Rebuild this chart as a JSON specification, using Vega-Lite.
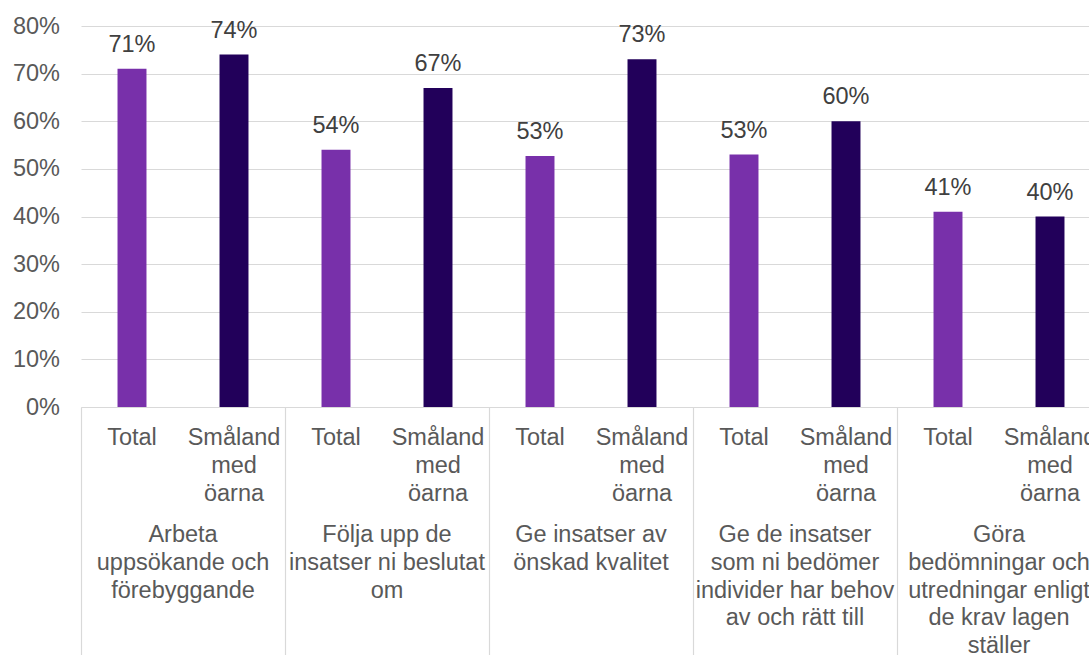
{
  "$schema": "https://vega.github.io/schema/vega-lite/v6.json",
  "autosize": {"type": "none"},
  "width": 1020,
  "height": 381,
  "padding": {"left": 81, "top": 26, "right": -12, "bottom": 248},
  "background": "white",
  "config": {
    "font": "Liberation Sans",
    "view": {"stroke": null},
    "axis": {"labelFont": "Liberation Sans", "labelFontSize": 23.5, "labelColor": "#595959"}
  },
  "data": {
    "values": [
      {"group": "Arbeta uppsökande och förebyggande", "series": "Total", "value": 0.71},
      {"group": "Arbeta uppsökande och förebyggande", "series": "Småland med öarna", "value": 0.74},
      {"group": "Följa upp de insatser ni beslutat om", "series": "Total", "value": 0.54},
      {"group": "Följa upp de insatser ni beslutat om", "series": "Småland med öarna", "value": 0.67},
      {"group": "Ge insatser av önskad kvalitet", "series": "Total", "value": 0.527},
      {"group": "Ge insatser av önskad kvalitet", "series": "Småland med öarna", "value": 0.73},
      {"group": "Ge de insatser som ni bedömer individer har behov av och rätt till", "series": "Total", "value": 0.53},
      {"group": "Ge de insatser som ni bedömer individer har behov av och rätt till", "series": "Småland med öarna", "value": 0.60},
      {"group": "Göra bedömningar och utredningar enligt de krav lagen ställer", "series": "Total", "value": 0.41},
      {"group": "Göra bedömningar och utredningar enligt de krav lagen ställer", "series": "Småland med öarna", "value": 0.40}
    ]
  },
  "encoding": {
    "x": {
      "field": "group",
      "type": "nominal",
      "sort": null,
      "scale": {"paddingInner": 0, "paddingOuter": 0},
      "axis": {
        "orient": "bottom",
        "title": null,
        "labels": false,
        "ticks": true,
        "tickBand": "extent",
        "tickSize": 248,
        "tickColor": "#d9d9d9",
        "tickWidth": 1.2,
        "domain": true,
        "domainColor": "#d9d9d9",
        "domainWidth": 1.2
      }
    }
  },
  "layer": [
    {
      "mark": {"type": "bar"},
      "encoding": {
        "xOffset": {
          "field": "series",
          "type": "nominal",
          "sort": ["Total", "Småland med öarna"],
          "scale": {"paddingInner": 0.716, "paddingOuter": 0.358}
        },
        "y": {
          "field": "value",
          "type": "quantitative",
          "scale": {"domain": [0, 0.8], "nice": false},
          "axis": {
            "title": null,
            "values": [0, 0.1, 0.2, 0.3, 0.4, 0.5, 0.6, 0.7, 0.8],
            "format": ".0%",
            "grid": true,
            "gridColor": "#d9d9d9",
            "gridWidth": 1.2,
            "domain": false,
            "ticks": false,
            "labelPadding": 21.5
          }
        },
        "color": {
          "field": "series",
          "type": "nominal",
          "scale": {"domain": ["Total", "Småland med öarna"], "range": ["#7830AA", "#22005A"]},
          "legend": null
        }
      }
    },
    {
      "mark": {"type": "text", "baseline": "alphabetic", "dy": -17, "fontSize": 23.5, "color": "#404040", "font": "Liberation Sans"},
      "encoding": {
        "xOffset": {"field": "series", "type": "nominal", "sort": ["Total", "Småland med öarna"]},
        "y": {"field": "value", "type": "quantitative"},
        "text": {"field": "value", "type": "quantitative", "format": ".0%"}
      }
    },
    {
      "mark": {"type": "text", "baseline": "top", "align": "center", "fontSize": 23.5, "color": "#595959", "font": "Liberation Sans", "lineBreak": " ", "lineHeight": 28},
      "encoding": {
        "xOffset": {"field": "series", "type": "nominal", "sort": ["Total", "Småland med öarna"]},
        "y": {"datum": -0.039, "type": "quantitative"},
        "text": {"field": "series", "type": "nominal"}
      }
    },
    {
      "data": {
        "values": [
          {"group": "Arbeta uppsökande och förebyggande", "label": "Arbeta\nuppsökande och\nförebyggande"},
          {"group": "Följa upp de insatser ni beslutat om", "label": "Följa upp de\ninsatser ni beslutat\nom"},
          {"group": "Ge insatser av önskad kvalitet", "label": "Ge insatser av\nönskad kvalitet"},
          {"group": "Ge de insatser som ni bedömer individer har behov av och rätt till", "label": "Ge de insatser\nsom ni bedömer\nindivider har behov\nav och rätt till"},
          {"group": "Göra bedömningar och utredningar enligt de krav lagen ställer", "label": "Göra\nbedömningar och\nutredningar enligt\nde krav lagen\nställer"}
        ]
      },
      "mark": {"type": "text", "baseline": "top", "align": "center", "fontSize": 23.5, "color": "#595959", "font": "Liberation Sans", "lineBreak": "\n", "lineHeight": 27.7},
      "encoding": {
        "y": {"datum": -0.244, "type": "quantitative"},
        "text": {"field": "label", "type": "nominal"}
      }
    }
  ]
}
